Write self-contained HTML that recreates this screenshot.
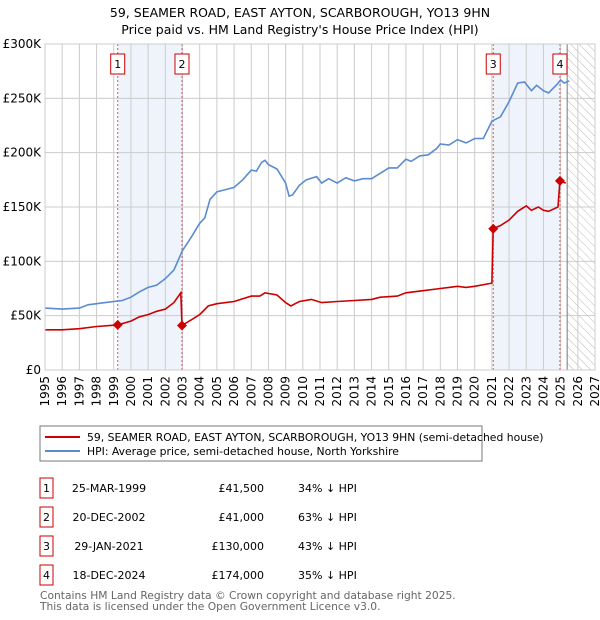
<!DOCTYPE html>
<html><head><meta charset="utf-8"><style>
body{margin:0;background:#fff;font-family:"Liberation Sans","DejaVu Sans",sans-serif;}
#wrap{position:relative;width:600px;height:620px;overflow:hidden}
svg text{font-family:"DejaVu Sans","Liberation Sans",sans-serif}
</style></head><body>
<div id="wrap">
<svg id="chart" width="600" height="620">
<defs><pattern id="hatch" width="6" height="6" patternUnits="userSpaceOnUse" patternTransform="rotate(-45)"><line x1="0" y1="0" x2="0" y2="6" stroke="#bbb" stroke-width="1"/></pattern></defs>
<text x="300" y="17" text-anchor="middle" font-size="12.5">59, SEAMER ROAD, EAST AYTON, SCARBOROUGH, YO13 9HN</text>
<text x="300" y="34" text-anchor="middle" font-size="12.5">Price paid vs. HM Land Registry's House Price Index (HPI)</text>
<g id="g"></g>
<rect x="40" y="426" width="442" height="35" fill="#fff" stroke="#777"/>
<line x1="45" y1="437" x2="80" y2="437" stroke="#cc0000" stroke-width="2"/>
<text x="87" y="441" font-size="10.8">59, SEAMER ROAD, EAST AYTON, SCARBOROUGH, YO13 9HN (semi-detached house)</text>
<line x1="45" y1="451" x2="80" y2="451" stroke="#5b8bd0" stroke-width="2"/>
<text x="87" y="455" font-size="10.8">HPI: Average price, semi-detached house, North Yorkshire</text>
<g id="tbl" font-size="11"></g>
<text x="40" y="599" font-size="10.7" fill="#666">Contains HM Land Registry data © Crown copyright and database right 2025.</text>
<text x="40" y="610" font-size="10.7" fill="#666">This data is licensed under the Open Government Licence v3.0.</text>
</svg></div>
<script>
const hpiYears=[1995,1996,1997,1997.5,1998,1998.5,1999,1999.5,2000,2000.5,2001,2001.5,2002,2002.5,2003,2003.5,2004,2004.3,2004.6,2005,2005.5,2006,2006.5,2007,2007.3,2007.6,2007.8,2008,2008.5,2009,2009.2,2009.4,2009.8,2010.2,2010.8,2011.1,2011.5,2012,2012.5,2013,2013.5,2014,2014.5,2015,2015.5,2016,2016.3,2016.8,2017.3,2017.8,2018,2018.5,2019,2019.5,2020,2020.5,2021,2021.5,2022,2022.5,2022.9,2023.3,2023.6,2024,2024.3,2024.8,2025,2025.2,2025.5];
const hpiValues=[57,56,57,60,61,62,63,64,67,72,76,78,84,92,110,122,135,140,157,164,166,168,175,184,183,191,193,189,185,172,160,161,170,175,178,172,176,172,177,174,176,176,181,186,186,194,192,197,198,204,208,207,212,209,213,213,229,233,247,264,265,257,262,257,255,263,267,264,266];
const ppYears=[1995,1996,1997,1998,1999.23,2000,2000.5,2001,2001.5,2002,2002.5,2002.9,2002.97,2003.5,2004,2004.5,2005,2006,2007,2007.5,2007.8,2008.5,2009,2009.3,2009.8,2010.5,2011.1,2012,2013,2014,2014.5,2015.5,2016,2017,2018,2018.5,2019,2019.5,2020,2021.0,2021.08,2021.5,2022,2022.5,2023,2023.3,2023.7,2024,2024.3,2024.85,2024.96,2025.3];
const ppValues=[37,37,38,40,41.5,45,49,51,54,56,62,71,41,46,51,59,61,63,68,68,71,69,62,59,63,65,62,63,64,65,67,68,71,73,75,76,77,76,77,80,130,133,138,146,151,147,150,147,146,150,174,172];
const saleYears=[1999.23,2002.97,2021.08,2024.96];
const saleValues=[41.5,41,130,174];
const saleLabels=["1","2","3","4"];
const saleDates=["25-MAR-1999","20-DEC-2002","29-JAN-2021","18-DEC-2024"];
const salePrices=["£41,500","£41,000","£130,000","£174,000"];
const saleHpi=["34% ↓ HPI","63% ↓ HPI","43% ↓ HPI","35% ↓ HPI"];
const yTicks=[0,50,100,150,200,250,300];
const yTickLabels=["£0","£50K","£100K","£150K","£200K","£250K","£300K"];
const xTicks=[];for(let y=1995;y<=2027;y++)xTicks.push(y);

const X0=45,X1=595,Y0=370,Y1=44;
const sx=y=>X0+(y-1995)*(X1-X0)/32;
const sy=v=>Y0-v*(Y0-Y1)/300;
const NS="http://www.w3.org/2000/svg";
const g=document.getElementById('g');
function mk(t,a,p){const e=document.createElementNS(NS,t);for(const k in a)e.setAttribute(k,a[k]);(p||g).appendChild(e);return e;}

for(let i=0;i<saleYears.length;i+=2){
 const r=mk('rect',{x:sx(saleYears[i]),y:Y1,width:sx(saleYears[i+1])-sx(saleYears[i]),height:Y0-Y1,fill:'#eef3fc'});
 
 
}
const fut=mk('rect',{x:sx(2025.38),y:Y1,width:X1-sx(2025.38),height:Y0-Y1,fill:'url(#hatch)'});


xTicks.forEach(t=>{
 const l=mk('line',{x1:sx(t),x2:sx(t),y1:Y1,y2:Y0,stroke:'#ccc','stroke-width':1});
 
 
 const tx=mk('text',{x:0,y:0,'font-size':12,'text-anchor':'end',transform:`translate(${sx(t)+4},${Y0+6}) rotate(-90)`});
 tx.textContent=t;
 
 
});
yTicks.forEach((t,i)=>{
 const l=mk('line',{x1:X0,x2:X1,y1:sy(t),y2:sy(t),stroke:'#ccc','stroke-width':1});
 
 
 const tx=mk('text',{x:41,y:sy(t)+4,'font-size':12,'text-anchor':'end'});
 tx.textContent=yTickLabels[i];
 
 
});
const nowL=mk('line',{x1:sx(2025.38),x2:sx(2025.38),y1:Y1,y2:Y0,stroke:'#777','stroke-width':1});


saleYears.forEach((y,i)=>{
 const l=mk('line',{x1:sx(y),x2:sx(y),y1:Y1,y2:Y0,stroke:'#e05555','stroke-width':1,'stroke-dasharray':'2,2'});
 
 
 const b=mk('rect',{x:sx(y)-7,y:54,width:14,height:20,fill:'#fff',stroke:'#cc0000'});
 
 
 const t=mk('text',{x:sx(y),y:68,'font-size':11,'text-anchor':'middle'});
 t.textContent=saleLabels[i];
 
 
});
function line(xs,vs,c,name){
 const p=mk('path',{d:xs.map((x,i)=>(i?'L':'M')+sx(x).toFixed(1)+','+sy(vs[i]).toFixed(1)).join(''),fill:'none',stroke:c,'stroke-width':1.6});
 
 
}
line(hpiYears,hpiValues,'#5b8bd0','hpi-line');
line(ppYears,ppValues,'#cc0000','price-paid-line');
saleYears.forEach((y,i)=>{
 const cx=sx(y),cy=sy(saleValues[i]);
 const d=mk('path',{d:`M${cx-5},${cy}L${cx},${cy-5}L${cx+5},${cy}L${cx},${cy+5}Z`,fill:'#cc0000'});
 
 
});
const border=mk('rect',{x:X0,y:Y1,width:X1-X0,height:Y0-Y1,fill:'none',stroke:'#ccc'});


const tbl=document.getElementById('tbl');
const rowY=[488,517,546,575];
saleLabels.forEach((s,i)=>{
 const y=rowY[i];
 const b=mk('rect',{x:40,y:y-10,width:13,height:20,fill:'#fff',stroke:'#cc0000'},tbl);
 
 
 const a=mk('text',{x:46.5,y:y+4,'text-anchor':'middle'},tbl);a.textContent=s;
 
 
 const d=mk('text',{x:109,y:y+4,'text-anchor':'middle'},tbl);d.textContent=saleDates[i];
 
 
 const p=mk('text',{x:264,y:y+4,'text-anchor':'end'},tbl);p.textContent=salePrices[i];
 
 
 const h=mk('text',{x:298,y:y+4},tbl);h.textContent=saleHpi[i];
 
 
});
</script>
</body></html>
